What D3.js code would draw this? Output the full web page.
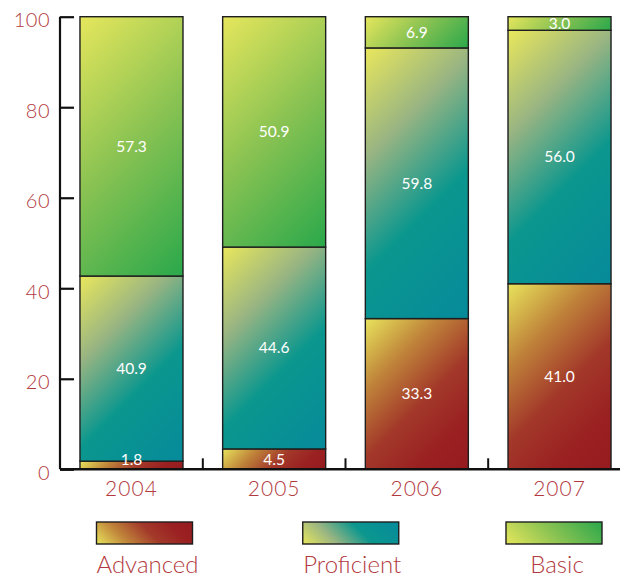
<!DOCTYPE html>
<html>
<head>
<meta charset="utf-8">
<script src="https://cdn.jsdelivr.net/npm/d3@7"></script>
<style>
  html, body { margin: 0; padding: 0; background: #ffffff; }
  svg { display: block; }
</style>
</head>
<body>
<svg id="chart" width="620" height="580"></svg>
<script>
// ---- data ----
const years = ["2004", "2005", "2006", "2007"];
const seriesNames = ["Advanced", "Proficient", "Basic"];
const advanced = [1.8, 4.5, 33.3, 41.0];
const proficient = [40.9, 44.6, 59.8, 56.0];
const basic = [57.3, 50.9, 6.9, 3.0];
const yTicks = [0, 20, 40, 60, 80, 100];

// ---- styling ----
const labelColor = "#b23a3e";
const gradStops = {
  Advanced: [[0, "#e8e45c"], [0.28, "#c0853a"], [0.55, "#a3392a"], [0.8, "#9a2021"], [1, "#951b20"]],
  Proficient: [[0, "#e9e75c"], [0.3, "#98b482"], [0.6, "#0b978e"], [1, "#068a9b"]],
  Basic: [[0, "#e6e65c"], [0.5, "#88c252"], [1, "#2aa84b"]]
};

const svg = d3.select("#chart");
const defs = svg.append("defs");

const x = d3.scaleBand().domain(years).range([60, 631]).paddingInner(0.278).paddingOuter(0.14);
const y = d3.scaleLinear().domain([0, 100]).range([469.3, 16.7]);

const table = years.map((yr, i) => ({ year: yr, Advanced: advanced[i], Proficient: proficient[i], Basic: basic[i] }));
const stacked = d3.stack().keys(seriesNames)(table);

let gid = 0;
function diagGradient(series, x0, y0, w, h, fromBottom) {
  const id = "g" + (gid++);
  const d = (w + h) / 2;
  const g = defs.append("linearGradient").attr("id", id)
    .attr("gradientUnits", "userSpaceOnUse")
    .attr("x1", x0).attr("y1", fromBottom ? y0 + h : y0)
    .attr("x2", x0 + d).attr("y2", fromBottom ? y0 + h - d : y0 + d);
  gradStops[series].forEach(s => g.append("stop").attr("offset", s[0]).attr("stop-color", s[1]));
  return "url(#" + id + ")";
}

// bars
const bw = x.bandwidth();
stacked.forEach(layer => {
  const key = layer.key;
  layer.forEach((d, i) => {
    const x0 = x(years[i]);
    const yTop = y(d[1]);
    const yBot = y(d[0]);
    const h = yBot - yTop;
    svg.append("rect")
      .attr("x", x0).attr("y", yTop).attr("width", bw).attr("height", h)
      .attr("fill", diagGradient(key, x0, yTop, bw, h, false))
      .attr("stroke", "#1e1e1e").attr("stroke-width", 1.4);
  });
});

// value labels
stacked.forEach(layer => {
  layer.forEach((d, i) => {
    const mid = (y(d[0]) + y(d[1])) / 2;
    const ly = Math.min(mid, y(0) - 10);
    svg.append("text")
      .attr("x", x(years[i]) + bw / 2).attr("y", ly)
      .attr("dy", "0.35em")
      .attr("text-anchor", "middle")
      .attr("font-family", "Lato, 'Open Sans', sans-serif")
      .attr("font-size", 15.5)
      .attr("fill", "#ffffff")
      .text(d.data[layer.key].toFixed(1));
  });
});

// y axis
const yAxis = d3.axisLeft(y).tickValues(yTicks).tickSize(-14).tickPadding(10).tickFormat(d3.format("d"));
const ya = svg.append("g").attr("transform", "translate(60,0)").call(yAxis);
ya.select(".domain").attr("d", `M0,${y(100)}V${y(0)}`).attr("stroke", "#111").attr("stroke-width", 2.2);
ya.selectAll(".tick line").attr("stroke", "#111").attr("stroke-width", 2.2);
ya.selectAll(".tick text")
  .attr("fill", labelColor)
  .attr("font-family", "Lato, 'Open Sans', sans-serif")
  .attr("font-weight", 300)
  .attr("font-size", 20)
  .attr("letter-spacing", 0.5)
  .attr("dy", "0.5em");

// x axis baseline + separators + year labels
const xAxis = d3.axisBottom(x).tickSize(0).tickPadding(12);
const xa = svg.append("g").attr("transform", `translate(0,${y(0)})`).call(xAxis);
xa.select(".domain").attr("d", "M60,0H620").attr("stroke", "#111").attr("stroke-width", 2.4);
xa.selectAll(".tick text")
  .attr("fill", labelColor)
  .attr("font-family", "Lato, 'Open Sans', sans-serif")
  .attr("font-weight", 300)
  .attr("font-size", 21)
  .attr("letter-spacing", 1);

const gap = x.step() - bw;
svg.append("g").selectAll("line").data(years.slice(0, -1)).join("line")
  .attr("x1", d => x(d) + bw + gap / 2).attr("x2", d => x(d) + bw + gap / 2)
  .attr("y1", y(0)).attr("y2", y(0) - 11)
  .attr("stroke", "#111").attr("stroke-width", 2);

// legend
const legX = d3.scalePoint().domain(seriesNames).range([144.5, 554]);
const legW = 96, legH = 22, legY = 522;
seriesNames.forEach(s => {
  const cx = legX(s);
  const lx = cx - legW / 2 + (s === "Proficient" ? 1.5 : 0);
  svg.append("rect")
    .attr("x", lx).attr("y", legY).attr("width", legW).attr("height", legH)
    .attr("fill", diagGradient(s, lx, legY, legW, legH, true))
    .attr("stroke", "#1e1e1e").attr("stroke-width", 1.4);
  svg.append("text")
    .attr("x", cx + 3).attr("y", 573)
    .attr("text-anchor", "middle")
    .attr("font-family", "Lato, 'Open Sans', sans-serif")
    .attr("font-weight", 300)
    .attr("font-size", 24)
    .attr("fill", labelColor)
    .text(s);
});
</script>
</body>
</html>
